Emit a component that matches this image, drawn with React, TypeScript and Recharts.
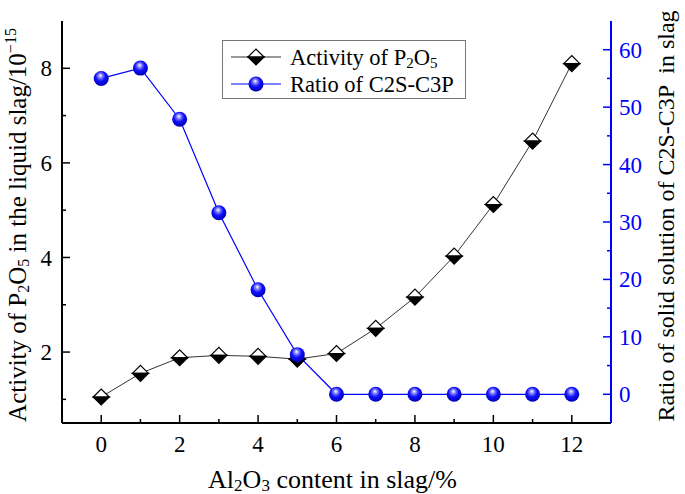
import React from "react";
import { LineChart, Line, XAxis, YAxis } from "recharts";

const alContent = [0, 1, 2, 3, 4, 5, 6, 7, 8, 9, 10, 11, 12];
const activityP2O5 = [1.05, 1.55, 1.88, 1.93, 1.91, 1.85, 1.97, 2.5, 3.16, 4.03, 5.12, 6.46, 8.1];
const ratioC2SC3P = [55.0, 56.8, 47.9, 31.6, 18.2, 6.9, 0, 0, 0, 0, 0, 0, 0];
const xTicks = [0, 1, 2, 3, 4, 5, 6, 7, 8, 9, 10, 11, 12];
const leftTicks = [1, 2, 3, 4, 5, 6, 7, 8];
const rightTicks = [0, 5, 10, 15, 20, 25, 30, 35, 40, 45, 50, 55, 60];

const data = alContent.map((x, i) => ({ x, act: activityP2O5[i], ratio: ratioC2SC3P[i] }));

const FONT = "Liberation Serif, DejaVu Serif, Times New Roman, serif";
const BLUE = "#0000ff";
const TICK_FS = 23;

const BottomTick = (p: any) => {
  const v = p.payload.value;
  const major = v % 2 === 0;
  return (
    <g>
      <line x1={p.x} y1={p.y} x2={p.x} y2={p.y - (major ? 8 : 4)} stroke="#000" strokeWidth={1.5} />
      {major && (
        <text x={p.x} y={p.y + 29} textAnchor="middle" fontFamily={FONT} fontSize={TICK_FS} fill="#000">
          {v}
        </text>
      )}
    </g>
  );
};

const LeftTick = (p: any) => {
  const v = p.payload.value;
  const major = v % 2 === 0;
  return (
    <g>
      <line x1={p.x} y1={p.y} x2={p.x + (major ? 8 : 4)} y2={p.y} stroke="#000" strokeWidth={1.5} />
      {major && (
        <text x={p.x - 10} y={p.y} dy="0.35em" textAnchor="end" fontFamily={FONT} fontSize={TICK_FS} fill="#000">
          {v}
        </text>
      )}
    </g>
  );
};

const RightTick = (p: any) => {
  const v = p.payload.value;
  const major = v % 10 === 0;
  return (
    <g>
      <line x1={p.x} y1={p.y} x2={p.x - (major ? 8 : 4)} y2={p.y} stroke={BLUE} strokeWidth={1.5} />
      {major && (
        <text x={p.x + 8} y={p.y} dy="0.35em" textAnchor="start" fontFamily={FONT} fontSize={TICK_FS} fill={BLUE}>
          {v}
        </text>
      )}
    </g>
  );
};

const Diamond = ({ cx, cy, s = 8 }: any) => (
  <g>
    <path d={`M${cx - s},${cy} L${cx},${cy - s} L${cx + s},${cy} Z`} fill="#fff" stroke="#000" strokeWidth={1.2} />
    <path d={`M${cx - s},${cy} L${cx},${cy + s} L${cx + s},${cy} Z`} fill="#000" stroke="#000" strokeWidth={1.2} />
  </g>
);

const Ball = ({ cx, cy, r = 7.5 }: any) => <circle cx={cx} cy={cy} r={r} fill="url(#ballGrad)" />;

const renderDiamond = (p: any) => <Diamond key={`d${p.index}`} cx={p.cx} cy={p.cy} />;
const renderBall = (p: any) => <Ball key={`b${p.index}`} cx={p.cx} cy={p.cy} />;

const LegendBox = () => (
  <g>
    <rect x={222.5} y={40.5} width={243} height={58} fill="#fff" stroke="#777" strokeWidth={1} />
    <line x1={231} y1={57} x2={281} y2={57} stroke="#333" strokeWidth={1} />
    <Diamond cx={256} cy={57} />
    <text x={290} y={57} dy="0.35em" fontFamily={FONT} fontSize={22.5} fill="#000">
      <tspan>Activity of P</tspan>
      <tspan fontSize={15} dy={3}>2</tspan>
      <tspan dy={-3}>O</tspan>
      <tspan fontSize={15} dy={3}>5</tspan>
    </text>
    <line x1={231} y1={84} x2={281} y2={84} stroke={BLUE} strokeWidth={1.2} />
    <Ball cx={256} cy={84} />
    <text x={290} y={84} dy="0.35em" fontFamily={FONT} fontSize={22.5} fill="#000">
      Ratio of C2S-C3P
    </text>
  </g>
);

const XLabel = (p: any) => {
  const vb = p.viewBox || {};
  const cx = (vb.x ?? 62) + (vb.width ?? 548) / 2 - 4;
  const y = (vb.y ?? 423) + 65;
  return (
    <text x={cx} y={y} textAnchor="middle" fontFamily={FONT} fontSize={26} fill="#000">
      <tspan>Al</tspan>
      <tspan fontSize={17} dy={3}>2</tspan>
      <tspan dy={-3}>O</tspan>
      <tspan fontSize={17} dy={3}>3</tspan>
      <tspan dy={-3}> content in slag/%</tspan>
    </text>
  );
};

const LeftLabel = () => (
  <text
    x={0}
    y={0}
    transform="translate(26,225) rotate(-90)"
    textAnchor="middle"
    fontFamily={FONT}
    fontSize={25}
    fill="#000"
  >
    <tspan>Activity of P</tspan>
    <tspan fontSize={16} dy={3}>2</tspan>
    <tspan dy={-3}>O</tspan>
    <tspan fontSize={16} dy={3}>5</tspan>
    <tspan dy={-3}> in the liquid slag/10</tspan>
    <tspan fontSize={16} dy={-10}>−15</tspan>
  </text>
);

const RightLabel = () => (
  <text
    x={0}
    y={0}
    transform="translate(674,216) rotate(-90)"
    textAnchor="middle"
    fontFamily={FONT}
    fontSize={24}
    fill="#000"
    style={{ whiteSpace: "pre" }}
  >
    Ratio of solid solution of C2S-C3P  in slag
  </text>
);

export default function App() {
  return (
    <div style={{ position: "absolute", left: 0, top: 0, width: 685, height: 494, background: "#fff" }}>
      <LineChart width={685} height={494} data={data} margin={{ top: 21, right: 0, bottom: 0, left: 0 }}>
        <defs>
          <radialGradient id="ballGrad" cx="45%" cy="40%" r="60%" fx="45%" fy="30%">
            <stop offset="0%" stopColor="#ffffff" />
            <stop offset="25%" stopColor="#7f7fff" />
            <stop offset="55%" stopColor="#1010ff" />
            <stop offset="100%" stopColor="#0000b0" />
          </radialGradient>
        </defs>
        <XAxis
          xAxisId="bottom"
          dataKey="x"
          type="number"
          domain={[-1, 13]}
          ticks={xTicks}
          interval={0}
          height={71}
          tickSize={0}
          tickMargin={0}
          tickLine={false}
          axisLine={{ stroke: "#000", strokeWidth: 2 }}
          tick={BottomTick}
          label={XLabel}
        />
        <XAxis
          xAxisId="top"
          orientation="top"
          dataKey="x"
          type="number"
          domain={[-1, 13]}
          height={0}
          tick={false}
          tickLine={false}
          axisLine={{ stroke: "#000", strokeWidth: 2 }}
        />
        <YAxis
          yAxisId="left"
          orientation="left"
          type="number"
          domain={[0.5, 9]}
          ticks={leftTicks}
          interval={0}
          width={62}
          tickSize={0}
          tickMargin={0}
          tickLine={false}
          axisLine={{ stroke: "#000", strokeWidth: 2 }}
          tick={LeftTick}
        />
        <YAxis
          yAxisId="right"
          orientation="right"
          type="number"
          domain={[-5, 65]}
          ticks={rightTicks}
          interval={0}
          width={74}
          tickSize={0}
          tickMargin={0}
          tickLine={false}
          axisLine={{ stroke: BLUE, strokeWidth: 2 }}
          tick={RightTick}
        />
        <Line
          xAxisId="bottom"
          yAxisId="left"
          dataKey="act"
          name="Activity of P2O5"
          stroke="#333"
          strokeWidth={1}
          dot={renderDiamond}
          activeDot={false}
          isAnimationActive={false}
        />
        <Line
          xAxisId="bottom"
          yAxisId="right"
          dataKey="ratio"
          name="Ratio of C2S-C3P"
          stroke={BLUE}
          strokeWidth={1.2}
          dot={renderBall}
          activeDot={false}
          isAnimationActive={false}
        />
        <LegendBox />
        <LeftLabel />
        <RightLabel />
      </LineChart>
    </div>
  );
}
